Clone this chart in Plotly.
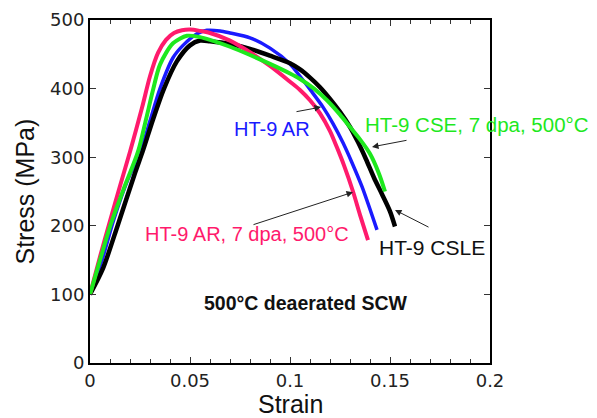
import plotly.graph_objects as go

# ---- data ----
red_strain = [0, 0.005, 0.01, 0.015, 0.02, 0.026, 0.03, 0.034, 0.038, 0.042, 0.046, 0.05, 0.055,
              0.06, 0.07, 0.08, 0.09, 0.1, 0.105, 0.11, 0.115, 0.12, 0.1235, 0.127, 0.1315, 0.135, 0.139]
red_stress = [100, 155, 207, 258, 308, 372, 418, 452, 471, 481, 485, 486, 484,
              481, 470, 453, 433, 410, 398, 383, 364, 338, 314, 288, 250, 216, 179]

green_strain = [0, 0.005, 0.0105, 0.017, 0.024, 0.028, 0.0315, 0.035, 0.0415, 0.0485, 0.055, 0.06, 0.07, 0.08,
                0.09, 0.1, 0.105, 0.112, 0.1185, 0.125, 0.13, 0.135, 0.14, 0.1445, 0.1475]
green_stress = [100, 150, 203, 255, 308, 355, 398, 435, 466, 477, 475, 471, 461, 449,
                436, 422, 414, 400, 383, 362, 344, 326, 305, 276, 250]

blue_strain = [0, 0.006, 0.012, 0.019, 0.0255, 0.03, 0.035, 0.0415, 0.0465, 0.0535, 0.0585, 0.065, 0.07, 0.08,
               0.09, 0.1, 0.105, 0.1105, 0.1165, 0.1215, 0.1265, 0.131, 0.136, 0.1435]
blue_stress = [100, 150, 210, 268, 310, 353, 400, 445, 463, 480, 485, 484, 481, 474,
               459, 436, 418, 397, 373, 349, 321, 292, 257, 194]

black_strain = [0, 0.0065, 0.014, 0.0225, 0.0265, 0.0315, 0.037, 0.0435, 0.05, 0.055, 0.06, 0.07, 0.08, 0.09,
                0.1, 0.105, 0.11, 0.115, 0.12, 0.125, 0.13, 0.134, 0.138, 0.142, 0.146, 0.15, 0.1525]
black_stress = [100, 138, 202, 277, 310, 355, 400, 440, 463, 470, 469, 465, 458, 448,
                437, 428, 416, 402, 385, 366, 344, 322, 297, 270, 246, 221, 199]

x_ticks = [0, 0.05, 0.1, 0.15, 0.2]
x_tick_text = ["0", "0.05", "0.1", "0.15", "0.2"]
y_ticks = [0, 100, 200, 300, 400, 500]

RED = "#ff1a6c"
GREEN = "#1ee81e"
BLUE = "#1a1aff"
BLACK = "#000000"
FONT = "Liberation Sans, Arial, sans-serif"
TICKFONT = "DejaVu Sans, sans-serif"

fig = go.Figure()
fig.add_trace(go.Scatter(x=blue_strain, y=blue_stress, mode="lines", line=dict(color=BLUE, width=3.5, shape="spline", smoothing=0.8), showlegend=False))
fig.add_trace(go.Scatter(x=black_strain, y=black_stress, mode="lines", line=dict(color=BLACK, width=4.5, shape="spline", smoothing=0.8), showlegend=False))
fig.add_trace(go.Scatter(x=red_strain, y=red_stress, mode="lines", line=dict(color=RED, width=4, shape="spline", smoothing=0.8), showlegend=False))
fig.add_trace(go.Scatter(x=green_strain, y=green_stress, mode="lines", line=dict(color=GREEN, width=4, shape="spline", smoothing=0.8), showlegend=False))

# arrows (head -> tail in data units)
arrows = [
    (0.1155, 373, 0.1025, 366),
    (0.141, 315, 0.159, 325),
    (0.1315, 249, 0.081, 201),
    (0.1525, 223, 0.17, 197),
]
for hx, hy, tx, ty in arrows:
    fig.add_annotation(x=hx, y=hy, ax=tx, ay=ty, xref="x", yref="y", axref="x", ayref="y",
                       text="", showarrow=True, arrowhead=2, arrowsize=1.3, arrowwidth=1, arrowcolor="#222")

labels = [
    ("HT-9 AR", 0.071, 341, BLUE, 20),
    ("HT-9 CSE, 7 dpa, 500°C", 0.1365, 347, GREEN, 20.5),
    ("HT-9 AR, 7 dpa, 500°C", 0.0265, 188, RED, 20),
    ("HT-9 CSLE", 0.1435, 169, "#111", 21),
]
for txt, x, y, col, size in labels:
    fig.add_annotation(x=x, y=y, xref="x", yref="y", text=txt, showarrow=False, xanchor="left", yanchor="middle",
                       font=dict(family=FONT, size=size, color=col))

fig.add_annotation(x=0.10775, y=87, xref="x", yref="y", text="<b>500°C deaerated SCW</b>", showarrow=False,
                   xanchor="center", yanchor="middle", font=dict(family=FONT, size=19.5, color="#111"))

# axis titles
fig.add_annotation(x=0.5, y=-0.12, xref="paper", yref="paper", text="Strain", showarrow=False,
                   xanchor="center", yanchor="middle", font=dict(family=FONT, size=25, color="#111"))
fig.add_annotation(x=-0.165, y=0.5, xref="paper", yref="paper", text="Stress (MPa)", showarrow=False,
                   textangle=-90, xanchor="center", yanchor="middle", font=dict(family=FONT, size=25, color="#111"))

fig.update_xaxes(range=[0, 0.2], tickvals=x_ticks, ticktext=x_tick_text, ticks="inside", ticklen=6, tickwidth=1,
                 tickcolor="#333", minor=dict(dtick=0.01, ticks="inside", ticklen=4, tickcolor="#333", showgrid=False),
                 showline=True, linecolor="black", linewidth=2, mirror="ticks", showgrid=False, zeroline=False,
                 automargin=False, tickfont=dict(family=TICKFONT, size=18, color="#222"))
fig.update_yaxes(range=[0, 500], tickvals=y_ticks, ticks="inside", ticklen=6, tickwidth=1, tickcolor="#333",
                 showline=True, linecolor="black", linewidth=2, mirror="ticks", showgrid=False, zeroline=False,
                 automargin=False, tickfont=dict(family=TICKFONT, size=18, color="#222"))

fig.update_layout(width=589, height=410, margin=dict(l=82, r=107, t=12, b=55),
                  paper_bgcolor="white", plot_bgcolor="white", font=dict(family=FONT))

fig.write_html("out.html")
